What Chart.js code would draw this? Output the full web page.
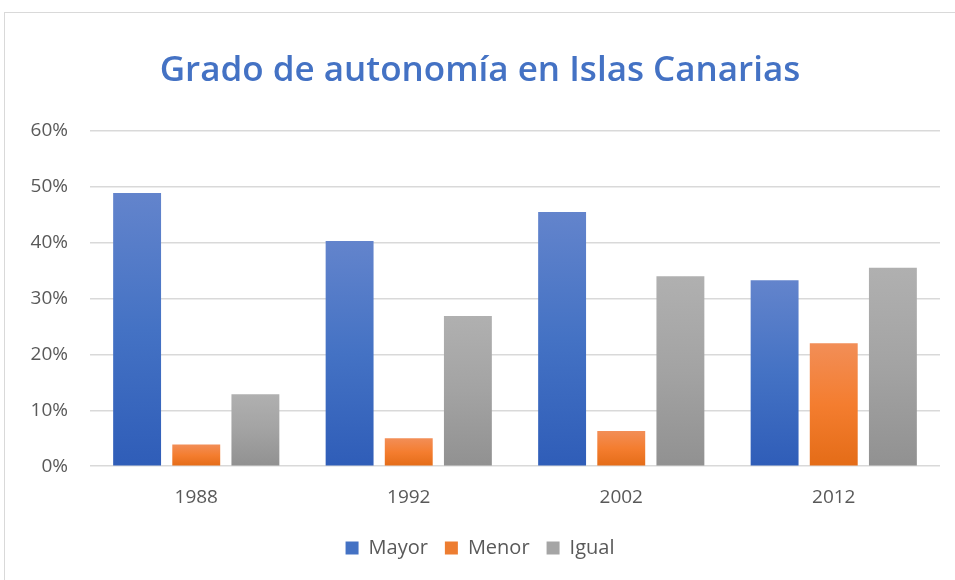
<!DOCTYPE html>
<html>
<head>
<meta charset="utf-8">
<script src="https://cdn.jsdelivr.net/npm/chart.js@4"></script>
<style>
html,body{margin:0;padding:0;background:#fff;}
#wrap{position:relative;width:955px;height:580px;}
</style>
</head>
<body>
<div id="wrap"><canvas id="c" width="955" height="580"></canvas></div>
<script>
const categories = ["1988", "1992", "2002", "2012"];
const seriesNames = ["Mayor", "Menor", "Igual"];
const mayor = [48.9, 40.3, 45.5, 33.3];
const menor = [3.9, 5.0, 6.3, 22.0];
const igual = [12.9, 26.9, 34.0, 35.5];
const yTicks = [0, 10, 20, 30, 40, 50, 60];

const gradStops = {
  Mayor: ["#6384CC", "#4472C4", "#2F5DB8"],
  Menor: ["#F28E57", "#F47D2F", "#E46C17"],
  Igual: ["#B0B0B0", "#A3A3A3", "#919191"]
};
const solid = { Mayor: "#4472C4", Menor: "#ED7D31", Igual: "#A5A5A5" };

function makeGrad(name) {
  return function(ctx) {
    const chart = ctx.chart;
    const ca = chart.chartArea;
    if (!ca) return solid[name];
    const yScale = chart.scales.y;
    const v = ctx.raw;
    let top = ca.top, bottom = ca.bottom;
    if (ctx.type === 'data' && typeof v === 'number') {
      top = yScale.getPixelForValue(v);
      bottom = yScale.getPixelForValue(0);
    }
    if (bottom - top < 1) return solid[name];
    const g = chart.ctx.createLinearGradient(0, top, 0, bottom);
    const s = gradStops[name];
    g.addColorStop(0, s[0]);
    g.addColorStop(0.5, s[1]);
    g.addColorStop(1, s[2]);
    return g;
  };
}

const borderPlugin = {
  id: 'outerBorder',
  beforeDraw(chart) {
    const c = chart.ctx;
    c.save();
    c.fillStyle = '#fff';
    c.fillRect(0, 0, chart.width, chart.height);
    c.strokeStyle = '#D9D9D9';
    c.lineWidth = 1;
    c.strokeRect(4.5, 12.5, 1000, 700);
    c.restore();
  }
};

const values = [mayor, menor, igual];
new Chart(document.getElementById('c'), {
  type: 'bar',
  data: {
    labels: categories,
    datasets: seriesNames.map((n, i) => ({
      label: n,
      data: values[i],
      backgroundColor: makeGrad(n),
      borderWidth: 0,
      barPercentage: 0.81,
      categoryPercentage: 0.835
    }))
  },
  options: {
    responsive: false,
    animation: false,
    devicePixelRatio: 1,
    layout: { padding: { left: 20, right: 15, top: 0, bottom: 12 } },
    plugins: {
      title: {
        display: true,
        text: 'Grado de autonomía en Islas Canarias',
        color: '#4472C4',
        font: { family: '"Open Sans", sans-serif', size: 35, weight: '600' },
        padding: { top: 50, bottom: 39 }
      },
      legend: {
        position: 'bottom',
        labels: {
          color: '#595959',
          font: { family: '"Open Sans", sans-serif', size: 20 },
          boxWidth: 13,
          boxHeight: 13,
          padding: 17,
          generateLabels(chart) {
            return seriesNames.map((n, i) => ({
              text: n,
              fillStyle: solid[n],
              strokeStyle: solid[n],
              lineWidth: 0,
              datasetIndex: i,
              fontColor: '#595959'
            }));
          }
        }
      },
      tooltip: { enabled: false }
    },
    scales: {
      x: {
        grid: { display: false },
        border: { display: false },
        ticks: {
          color: '#595959',
          font: { family: '"Open Sans", sans-serif', size: 19 },
          padding: 12
        }
      },
      y: {
        min: 0,
        max: 60,
        afterFit(scale) { scale.width = 70; },
        afterBuildTicks(scale) { scale.ticks = yTicks.map(v => ({ value: v })); },
        grid: { color: '#D9D9D9', lineWidth: 1.5, drawTicks: false },
        border: { display: false },
        ticks: {
          color: '#595959',
          font: { family: '"Open Sans", sans-serif', size: 19 },
          padding: 22,
          callback: v => v + '%'
        }
      }
    }
  },
  plugins: [borderPlugin]
});
</script>
</body>
</html>
